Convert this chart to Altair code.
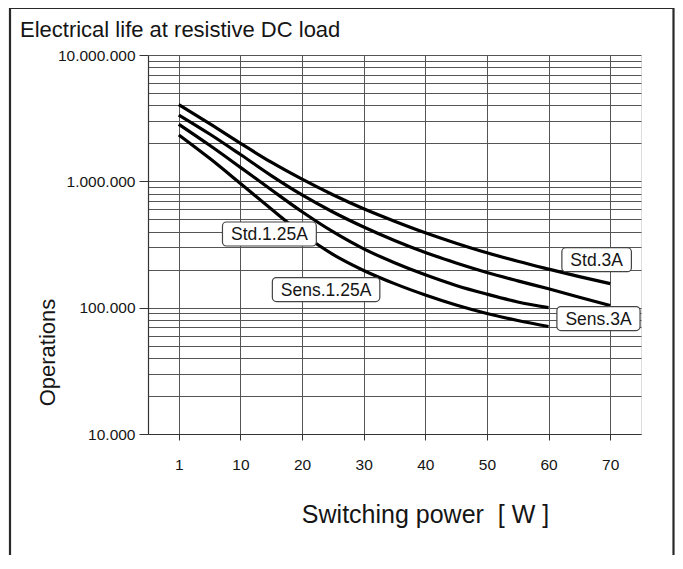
import altair as alt
import pandas as pd

# ---------------- data ----------------
power = [1, 5, 10, 15, 20, 25, 30, 35, 40, 45, 50, 55, 60, 65, 70]
std_3a = [4040000, 2860000, 2000000, 1417000, 1040000, 784000, 607000, 484000,
          392000, 324000, 272000, 233000, 202000, 176000, 155000]
sens_3a = [3350000, 2370000, 1630000, 1110000, 780000, 572000, 435000, 340000,
           273000, 226000, 190000, 163000, 141000, 121000, 104000]
std_125 = [2830000, 1930000, 1290000, 857000, 574000, 399000, 292000, 227000,
           182000, 150000, 128000, 111000, 100000]
sens_125 = [2330000, 1520000, 961000, 604000, 386000, 264000, 197000, 155000,
            126000, 105000, 89900, 79100, 70900]

label_text = ["Std.1.25A", "Sens.1.25A", "Std.3A", "Sens.3A"]
label_power = [14.7, 23.9, 67.8, 68.1]
label_ops = [383000, 139000, 240000, 82000]

x_tick_pos = [0, 10, 20, 30, 40, 50, 60, 70]
x_tick_labels = ["1", "10", "20", "30", "40", "50", "60", "70"]
y_tick_values = [10000, 100000, 1000000, 10000000]
y_tick_labels = ["10.000", "100.000", "1.000.000", "10.000.000"]

title_text = "Electrical life at resistive DC load"
x_title = "Switching power\u00a0 [\u00a0W\u00a0]"
y_title = "Operations"

# ---------------- tables ----------------
rows = []
for name, vals in [("Std.3A", std_3a), ("Sens.3A", sens_3a),
                   ("Std.1.25A", std_125), ("Sens.1.25A", sens_125)]:
    for p, v in zip(power, vals):
        rows.append({"series": name, "power": p, "ops": v})
df = pd.DataFrame(rows)

FONT = "Liberation Sans"
GRID = "#555555"
INK = "#151515"

x_grid = list(range(0, 71, 5))
y_grid = [m * 10 ** k for k in (4, 5, 6) for m in range(1, 10)] + [10 ** 7]


def label_expr(vals, labels):
    v = "[" + ",".join(str(a) for a in vals) + "]"
    l = "[" + ",".join("'" + s + "'" for s in labels) + "]"
    return f"indexof({v}, datum.value) >= 0 ? {l}[indexof({v}, datum.value)] : ''"


x_scale = alt.Scale(domain=[-5, 75], nice=False, zero=False)
y_scale = alt.Scale(type="log", domain=[1e4, 1e7], nice=False)

x_axis = alt.Axis(
    values=x_grid, grid=True, gridColor=GRID, gridWidth=1,
    labelExpr=label_expr(x_tick_pos, x_tick_labels),
    labelFont=FONT, labelFontSize=15.5, labelColor=INK, labelPadding=17,
    tickSize=6, tickColor="#333", domainColor="#333", domainWidth=1.2,
    title=x_title, titleFont=FONT, titleFontSize=25,
    titleFontWeight="normal", titleColor=INK,
    titleX=277, titleY=88, titleAlign="center", titleBaseline="alphabetic",
)
dec_test = "indexof([" + ",".join(str(a) for a in y_tick_values) + "], datum.value) >= 0"
y_axis = alt.Axis(
    values=y_grid, grid=True, gridColor=GRID, gridWidth=1,
    labelExpr=label_expr(y_tick_values, y_tick_labels),
    labelFont=FONT, labelFontSize=15.5, labelColor=INK, labelPadding=4,
    tickSize=9, tickColor="#333",
    tickOpacity={"condition": {"test": dec_test, "value": 1}, "value": 0},
    domainColor="#333", domainWidth=1.2,
    title=y_title, titleFont=FONT, titleFontSize=22,
    titleFontWeight="normal", titleColor=INK,
    titleAngle=270, titleX=-94, titleY=297, titleAlign="center",
    titleBaseline="alphabetic",
)

lines = (
    alt.Chart(df)
    .transform_calculate(xp="datum.power == 1 ? 0 : datum.power")
    .mark_line(color="black", strokeWidth=3.2, interpolate="monotone")
    .encode(
        x=alt.X("xp:Q", scale=x_scale, axis=x_axis),
        y=alt.Y("ops:Q", scale=y_scale, axis=y_axis),
        detail="series:N",
    )
)

CHAR_W = {"S": 0.667, "t": 0.278, "d": 0.556, ".": 0.278, "1": 0.556, "2": 0.556,
          "5": 0.556, "A": 0.667, "e": 0.556, "n": 0.556, "s": 0.5, "3": 0.556}
LBL_SIZE = 17.5

layers = [lines]
for t, p, o in zip(label_text, label_power, label_ops):
    w = sum(CHAR_W.get(c, 0.55) for c in t) * LBL_SIZE + 17
    d = pd.DataFrame([{"xp": p, "ops": o, "label": t}])
    box = alt.Chart(d).mark_rect(
        width=w, height=24, cornerRadius=4, fill="white",
        stroke="#444", strokeWidth=1.2,
    ).encode(x=alt.X("xp:Q", scale=x_scale), y=alt.Y("ops:Q", scale=y_scale))
    txt = alt.Chart(d).mark_text(
        font=FONT, fontSize=LBL_SIZE, color=INK, align="center", baseline="middle", dy=1,
    ).encode(x=alt.X("xp:Q", scale=x_scale), y=alt.Y("ops:Q", scale=y_scale), text="label:N")
    layers += [box, txt]

# page frame and heading (decoration, placed in pixels relative to the plot)
frame = alt.Chart(alt.Data(values=[{}])).mark_rect(
    fill="transparent", stroke="#2a2a2a", strokeWidth=2.2
).encode(x=alt.value(-138), x2=alt.value(525.5), y=alt.value(-47), y2=alt.value(570))
heading = alt.Chart(alt.Data(values=[{"t": title_text}])).mark_text(
    font=FONT, fontSize=22, color=INK, align="left", baseline="alphabetic"
).encode(x=alt.value(-128), y=alt.value(-18), text="t:N")
layers += [frame, heading]

chart = (
    alt.layer(*layers)
    .properties(
        width=493, height=379,
        autosize=alt.AutoSizeParams(type="none"),
        padding={"left": 140, "top": 47, "right": 34, "bottom": 121},
    )
    .configure_view(fill="#e7e7e7", stroke="transparent")
    .configure(background="white")
)

chart.save("out.html", embed_options={"renderer": "svg", "actions": False})
